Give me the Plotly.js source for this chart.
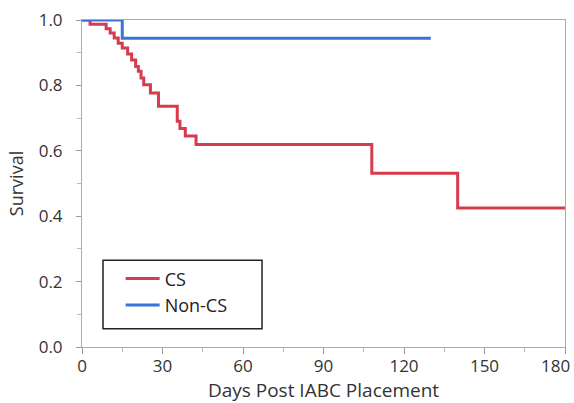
<!DOCTYPE html>
<html>
<head>
<meta charset="utf-8">
<script src="https://cdn.plot.ly/plotly-3.0.1.min.js"></script>
<style>html,body{margin:0;padding:0;background:#fff;}#chart{width:574px;height:403px;}</style>
</head>
<body>
<div id="chart"></div>
<script>
// CS group Kaplan-Meier steps (day, survival)
var csDays = [0, 3, 9, 10.5, 12, 13.5, 15, 17, 18.5, 20, 21, 22, 23, 25.5, 28.5, 35.5, 36.5, 38.5, 42.5, 108, 140, 180];
var csSurv = [1.0, 0.987, 0.973, 0.960, 0.945, 0.929, 0.914, 0.896, 0.878, 0.858, 0.843, 0.823, 0.802, 0.777, 0.736, 0.690, 0.668, 0.645, 0.619, 0.531, 0.425, 0.425];
// Non-CS group
var nonCsDays = [0, 15, 130];
var nonCsSurv = [1.0, 0.944, 0.944];

var xTicks = [0, 30, 60, 90, 120, 150, 180];
var xTickText = ['0', '30', '60', '90', '120', '150', '180'];
var yTicks = [0.0, 0.2, 0.4, 0.6, 0.8, 1.0];
var yTickText = ['0.0', '0.2', '0.4', '0.6', '0.8', '1.0'];

var FONT = '"Open Sans", "Noto Sans", sans-serif';

var traces = [
  {x: csDays, y: csSurv, name: 'CS', mode: 'lines', line: {shape: 'hv', color: '#d63b4e', width: 3}, cliponaxis: false},
  {x: nonCsDays, y: nonCsSurv, name: 'Non-CS', mode: 'lines', line: {shape: 'hv', color: '#3d72d8', width: 3}, cliponaxis: false}
];

// last tick label is drawn right-aligned so it stays inside the picture, as in the reference
var lastIdx = xTicks.length - 1;
var axisTickText = xTickText.map(function (t, i) { return i === lastIdx ? '' : t; });

var layout = {
  width: 574, height: 403,
  margin: {l: 82, r: 9, t: 20, b: 56},
  paper_bgcolor: '#fff', plot_bgcolor: '#fff',
  font: {family: FONT, size: 17, color: '#333'},
  showlegend: true,
  legend: {
    x: 0.08, y: 0.265, xanchor: 'left', yanchor: 'top',
    bgcolor: 'rgba(0,0,0,0)', borderwidth: 0,
    itemwidth: 34,
    font: {family: FONT, size: 18, color: '#222'}
  },
  shapes: [{
    type: 'rect', xref: 'paper', yref: 'paper',
    x0: 0.0435, x1: 0.3727, y0: 0.056, y1: 0.265,
    line: {color: '#222', width: 1.5}, fillcolor: 'rgba(0,0,0,0)'
  }],
  annotations: [{
    x: xTicks[lastIdx], xref: 'x', y: 0, yref: 'paper',
    text: xTickText[lastIdx], showarrow: false,
    xanchor: 'right', yanchor: 'middle', xshift: 6, yshift: -18,
    borderpad: 0,
    font: {family: FONT, size: 17, color: '#333'}
  }],
  xaxis: {
    range: [0, 180], tickvals: xTicks, ticktext: axisTickText,
    ticks: 'outside', ticklen: 6, tickcolor: '#999', tickwidth: 1,
    minor: {dtick: 15, tick0: 0, ticks: 'outside', ticklen: 4, tickcolor: '#bbb', showgrid: false},
    showline: true, linecolor: '#aaa', linewidth: 1, mirror: true,
    showgrid: false, zeroline: false,
    ticklabelstandoff: -2,
    tickfont: {family: FONT, size: 17, color: '#333'},
    title: {text: 'Days Post IABC Placement', font: {family: FONT, size: 19, color: '#333'}, standoff: 6}
  },
  yaxis: {
    range: [0, 1.0], tickvals: yTicks, ticktext: yTickText,
    ticks: 'outside', ticklen: 5, tickcolor: '#999', tickwidth: 1,
    minor: {dtick: 0.1, tick0: 0, ticks: 'outside', ticklen: 4, tickcolor: '#bbb', showgrid: false},
    showline: true, linecolor: '#aaa', linewidth: 1, mirror: true,
    showgrid: false, zeroline: false,
    tickfont: {family: FONT, size: 17, color: '#333'},
    ticklabelstandoff: 10,
    title: {text: 'Survival', font: {family: FONT, size: 18, color: '#333'}, standoff: 10}
  }
};

Plotly.newPlot('chart', traces, layout, {displayModeBar: false, staticPlot: true});
</script>
</body>
</html>
